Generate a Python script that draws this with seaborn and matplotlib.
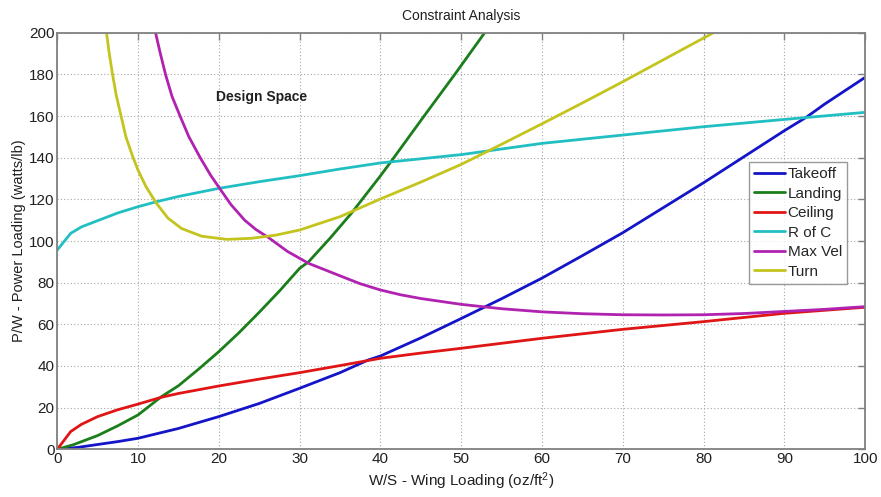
import matplotlib
matplotlib.use("Agg")
import matplotlib.pyplot as plt
import seaborn as sns
import pandas as pd

# ---- data ----
takeoff_x = [0, 2.5, 5, 7.5, 10, 15, 20, 25, 30, 35, 38.5, 40, 45, 50, 55, 60, 65, 70, 75, 80, 85, 90, 92.7, 95, 100]
takeoff_y = [0, 0.9, 2.3, 3.7, 5.3, 10.0, 15.7, 22.0, 29.3, 36.8, 42.9, 44.8, 53.5, 62.8, 72.3, 82.2, 93.0, 104.0, 116.0, 128.0, 140.5, 153.0, 159.4, 165.8, 178.6]

landing_x = [0, 2, 5, 7.5, 10, 12.9, 15, 17.5, 20, 22.5, 25, 27.5, 30, 31.1, 33.75, 36.4, 40, 41.3, 45.4, 49.2, 52.9]
landing_y = [0, 2.2, 6.6, 11.3, 16.5, 25.3, 30.5, 38.5, 46.9, 56.0, 65.8, 76.0, 86.9, 90.0, 101.3, 113.3, 131.3, 138.1, 160, 180, 200]

ceiling_x = [0, 1.66, 3, 5, 7.5, 10, 12.9, 15, 20, 25, 30, 35, 40, 45, 50, 60, 70, 80, 90, 100]
ceiling_y = [0, 8.5, 12.0, 15.7, 19.0, 21.7, 25.0, 26.8, 30.4, 33.7, 36.8, 40.2, 43.7, 46.2, 48.5, 53.3, 57.6, 61.3, 65.3, 68.2]

rofc_x = [0, 1.66, 3, 5, 7.5, 10, 12.3, 15, 20, 25, 30, 35, 40, 45, 50, 60, 70, 80, 90, 100]
rofc_y = [95.7, 103.7, 106.8, 109.8, 113.5, 116.5, 118.9, 121.4, 125.3, 128.5, 131.4, 134.6, 137.5, 139.5, 141.5, 146.9, 150.9, 154.9, 158.4, 161.8]

maxvel_x = [12.17, 12.7, 13.4, 14.2, 15.2, 16.3, 17.7, 19.0, 20.1, 21.5, 23.2, 24.6, 26.1, 28.5, 31.1, 35, 37.5, 40, 42.5, 45, 50, 55, 60, 65, 70, 75, 80, 85, 90, 95, 100]
maxvel_y = [200, 191, 180, 169.5, 160, 150, 140, 131.5, 125.3, 117.5, 110, 105.5, 101.8, 95.0, 89.3, 83.3, 79.5, 76.5, 74.2, 72.4, 69.6, 67.5, 66.0, 65.1, 64.6, 64.5, 64.6, 65.2, 66.2, 67.2, 68.5]

turn_x = [6.1, 6.4, 6.8, 7.3, 7.9, 8.5, 9.3, 10, 11, 12.3, 13.7, 15.4, 17.9, 21, 24, 27, 30, 35, 40, 45, 50, 54.4, 60, 65, 70, 75, 81.2]
turn_y = [200, 191, 181, 170, 160, 150, 141, 134, 126, 118, 111, 106, 102.3, 100.8, 101.3, 102.8, 105.3, 111.7, 120.2, 128.3, 136.8, 145.3, 156.3, 166.3, 176.5, 187.0, 200]

series_names = ["Takeoff", "Landing", "Ceiling", "R of C", "Max Vel", "Turn"]
series_colors = ["#1414c8", "#1a7f1a", "#e01515", "#22bfc2", "#b022b0", "#c4c41e"]

xs = [takeoff_x, landing_x, ceiling_x, rofc_x, maxvel_x, turn_x]
ys = [takeoff_y, landing_y, ceiling_y, rofc_y, maxvel_y, turn_y]

frames = []
for name, x, y in zip(series_names, xs, ys):
    frames.append(pd.DataFrame({"x": x, "y": y, "series": name}))
df = pd.concat(frames, ignore_index=True)

sns.set_style("white")
plt.rcParams["font.family"] = ["Liberation Sans", "DejaVu Sans"]
plt.rcParams["mathtext.fontset"] = "custom"
plt.rcParams["mathtext.rm"] = "Liberation Sans"
plt.rcParams["mathtext.it"] = "Liberation Sans:italic"

fig = plt.figure(figsize=(8.81, 4.97), dpi=100)
ax = fig.add_axes([0.065, 0.096, 0.917, 0.838])

sns.lineplot(data=df, x="x", y="y", hue="series", hue_order=series_names,
             palette=dict(zip(series_names, series_colors)), estimator=None,
             sort=False, linewidth=2.0, ax=ax)

ax.set_xlim(0, 100)
ax.set_ylim(0, 200)
ax.set_xticks(range(0, 101, 10))
ax.set_yticks(range(0, 201, 20))
ax.grid(True, color="#a8a8a8", linestyle=(0, (1, 2)), linewidth=0.8)
ax.tick_params(direction="in", top=True, right=True, length=5, width=1,
               color="#808080", labelsize=11, labelcolor="#202020", pad=2)
for sp in ax.spines.values():
    sp.set_color("#808080")
    sp.set_linewidth(1.3)

ax.set_xlabel("W/S - Wing Loading (oz/ft$^2$)", fontsize=11, color="#202020", labelpad=3)
ax.set_ylabel("P/W - Power Loading (watts/lb)", fontsize=10.5, color="#202020", labelpad=2)
ax.set_title("Constraint Analysis", fontsize=10, color="#202020", pad=9)

ax.text(25.3, 169, "Design Space", ha="center", va="center", fontsize=10,
        fontweight="bold", color="#202020")

leg = ax.legend(loc="upper right", bbox_to_anchor=(0.978, 0.69), fontsize=11,
                frameon=True, fancybox=False, edgecolor="#808080",
                handlelength=2.0, handletextpad=0.2, borderpad=0.35,
                labelspacing=0.36, borderaxespad=0)
leg.get_frame().set_linewidth(1.0)
for line in leg.get_lines():
    line.set_linewidth(2.0)

fig.savefig("out.png", dpi=100)
